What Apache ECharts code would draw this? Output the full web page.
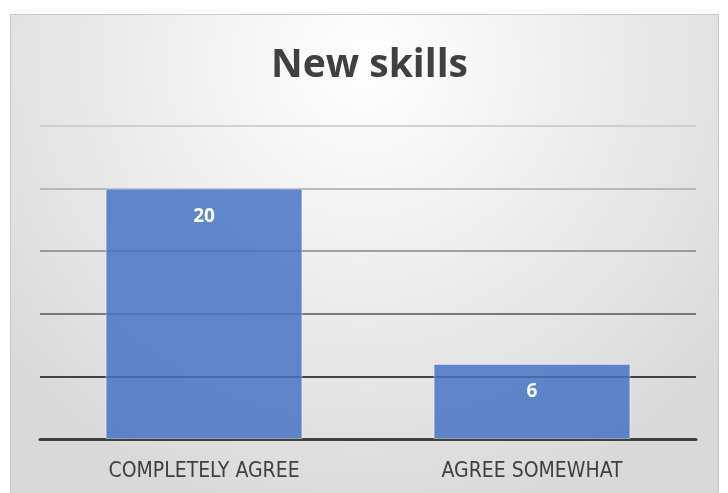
<!DOCTYPE html>
<html>
<head>
  <meta charset="UTF-8">
  <title>New skills</title>
  <script src="https://cdn.jsdelivr.net/npm/echarts@6/dist/echarts.min.js"></script>
  <style>
    html, body { margin: 0; padding: 0; background: #fff; }
    #main { width: 728px; height: 493px; }
  </style>
</head>
<body>
  <div id="main"></div>
  <script type="text/javascript">
    var categories = ['COMPLETELY AGREE', 'AGREE SOMEWHAT'];
    var values = [20, 6];
    // gridline colours from 0 up to 25 (darker near the bottom, like the original)
    var gridColors = ['#404040', '#111111', '#555555', '#858585', '#a8a8a8', '#c4c4c4'];

    var myChart = echarts.init(document.getElementById('main'));
    var option = {
      animation: false,
      graphic: [{
        type: 'rect',
        z: -10,
        silent: true,
        shape: { x: 10.5, y: 14.5, width: 708, height: 490 },
        style: {
          fill: {
            type: 'radial', x: 0.5, y: 0.1, r: 0.95,
            colorStops: [
              { offset: 0, color: '#ffffff' },
              { offset: 0.5, color: '#ececec' },
              { offset: 1, color: '#d9d9d9' }
            ]
          },
          stroke: '#c8c8c8',
          lineWidth: 1
        }
      }],
      title: {
        text: 'New skills',
        left: 266,
        top: 41,
        textStyle: {
          fontFamily: 'Open Sans',
          fontWeight: 'bold',
          fontSize: 39,
          color: '#404040'
        }
      },
      grid: {
        left: 40,
        right: 32,
        top: 126,
        bottom: 54,
        containLabel: false
      },
      xAxis: {
        type: 'category',
        data: categories,
        axisTick: { show: false },
        axisLine: { lineStyle: { color: '#404040', width: 3 } },
        axisLabel: {
          margin: 22,
          fontFamily: 'Liberation Sans Narrow, DejaVu Sans Condensed, Roboto',
          fontSize: 21,
          color: '#404040'
        }
      },
      yAxis: {
        type: 'value',
        min: 0,
        max: 25,
        interval: 5,
        axisLabel: { show: false },
        axisLine: { show: false },
        axisTick: { show: false },
        splitLine: { lineStyle: { color: gridColors, width: 1.5 } }
      },
      series: [{
        type: 'bar',
        data: values,
        barWidth: '60%',
        itemStyle: {
          color: 'rgba(68,114,196,0.84)',
          borderColor: 'rgba(255,255,255,0.45)',
          borderWidth: 1
        },
        label: {
          show: true,
          position: 'insideTop',
          distance: 18,
          color: '#ffffff',
          fontFamily: 'Open Sans',
          fontWeight: 'bold',
          fontSize: 19
        }
      }]
    };
    myChart.setOption(option);
  </script>
</body>
</html>
